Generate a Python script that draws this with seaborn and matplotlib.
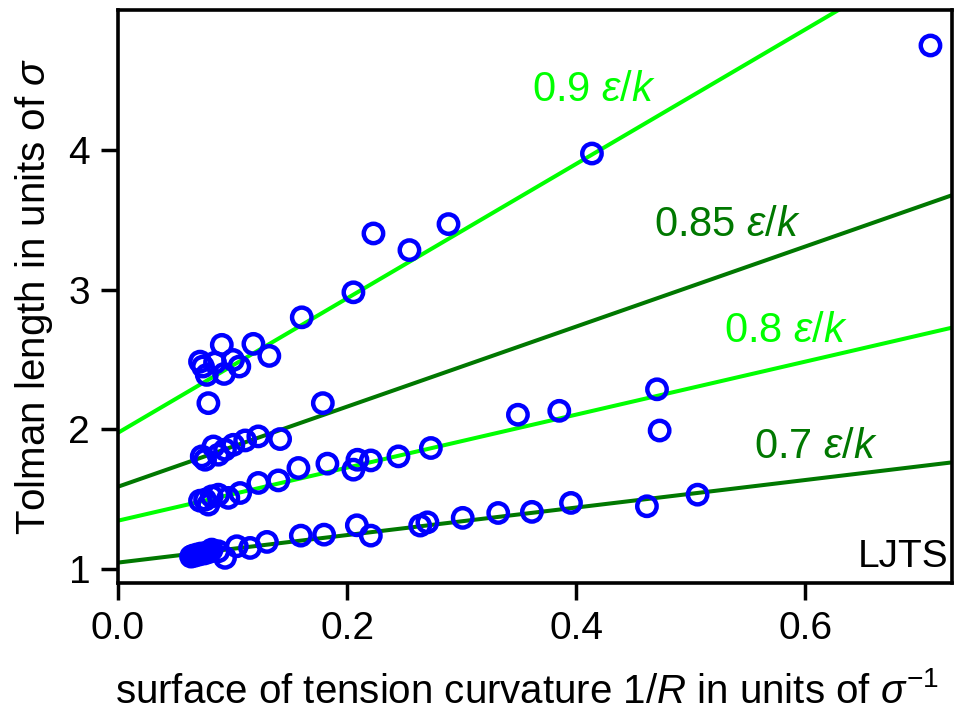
import numpy as np
import pandas as pd
import matplotlib
matplotlib.use("Agg")
import matplotlib.pyplot as plt
import seaborn as sns

# ---------------- data ----------------
temps = ["0.7", "0.8", "0.85", "0.9"]

x_07 = [0.0638, 0.0655, 0.0672, 0.0690, 0.0707, 0.0725, 0.0751, 0.0777, 0.0803,
        0.0818, 0.0876, 0.0934, 0.1037, 0.1153, 0.1300, 0.1596, 0.1799, 0.2085,
        0.2207, 0.2638, 0.2701, 0.3009, 0.3319, 0.3613, 0.3954, 0.4617, 0.5059]
y_07 = [1.089, 1.096, 1.096, 1.104, 1.104, 1.111, 1.111, 1.118, 1.125,
        1.139, 1.127, 1.080, 1.163, 1.151, 1.194, 1.239, 1.246, 1.313,
        1.239, 1.311, 1.334, 1.366, 1.401, 1.409, 1.473, 1.449, 1.532]

x_08 = [0.0716, 0.0760, 0.0789, 0.0818, 0.0876, 0.0963, 0.1066, 0.1225, 0.1400,
        0.1575, 0.1828, 0.2055, 0.2090, 0.2207, 0.2448, 0.2731, 0.3491, 0.3852,
        0.4728]
y_08 = [1.489, 1.496, 1.461, 1.520, 1.532, 1.509, 1.544, 1.616, 1.634,
        1.723, 1.754, 1.711, 1.782, 1.777, 1.806, 1.866, 2.104, 2.132,
        1.991]

x_085 = [0.0731, 0.0760, 0.0833, 0.0876, 0.0934, 0.1007, 0.1110, 0.1225, 0.1415,
         0.1788, 0.4705]
y_085 = [1.806, 1.782, 1.877, 1.818, 1.854, 1.889, 1.920, 1.949, 1.930,
         2.187, 2.286]

x_09 = [0.0716, 0.0906, 0.0742, 0.0847, 0.1004, 0.0775, 0.0926, 0.1059, 0.1182,
        0.1321, 0.0789, 0.1604, 0.2055, 0.2230, 0.2544, 0.2885, 0.4137, 0.7092]
y_09 = [2.484, 2.604, 2.449, 2.477, 2.496, 2.389, 2.396, 2.449, 2.611,
        2.525, 2.187, 2.801, 2.980, 3.401, 3.282, 3.468, 3.973, 4.746]

# linear fits delta(1/R) = intercept + slope / R
intercepts = [1.046, 1.346, 1.589, 1.975]
slopes = [0.985, 1.897, 2.865, 4.81]
line_colors = ["#007800", "#00ff00", "#007800", "#00ff00"]
label_x = [0.555, 0.529, 0.468, 0.361]
label_y = [1.87, 2.70, 3.464, 4.43]

x_ticks = [0.0, 0.2, 0.4, 0.6]
y_ticks = [1, 2, 3, 4]
x_lim = (0.0, 0.728)
y_lim = (0.9, 5.0)

# ---------------- tables ----------------
pts = pd.concat([
    pd.DataFrame({"x": x_07, "y": y_07, "T": "0.7"}),
    pd.DataFrame({"x": x_08, "y": y_08, "T": "0.8"}),
    pd.DataFrame({"x": x_085, "y": y_085, "T": "0.85"}),
    pd.DataFrame({"x": x_09, "y": y_09, "T": "0.9"}),
], ignore_index=True)

xs = np.array(x_lim)
lines = pd.concat([
    pd.DataFrame({"x": xs, "y": b + m * xs, "T": t})
    for t, b, m in zip(temps, intercepts, slopes)
], ignore_index=True)

# ---------------- style ----------------
sns.set_theme(style="ticks")
plt.rcParams["font.family"] = ["Liberation Sans", "DejaVu Sans"]
plt.rcParams["mathtext.fontset"] = "custom"
plt.rcParams["mathtext.rm"] = "Liberation Sans"
plt.rcParams["mathtext.it"] = "Liberation Sans:italic"
plt.rcParams["mathtext.bf"] = "Liberation Sans:bold"
plt.rcParams["text.color"] = "black"
plt.rcParams["axes.labelcolor"] = "black"

fig = plt.figure(figsize=(9.57, 7.2), dpi=100)
ax = fig.add_axes([118 / 957, 1 - 583 / 720, (952 - 118) / 957, (583 - 10) / 720])

sns.lineplot(data=lines, x="x", y="y", hue="T", hue_order=temps,
             palette=dict(zip(temps, line_colors)), linewidth=2.9,
             legend=False, ax=ax, zorder=2)

sns.scatterplot(data=pts, x="x", y="y", marker="o", s=195,
                facecolor="none", edgecolor="#0000ff", linewidth=3.2,
                legend=False, ax=ax, zorder=3)

for t, c, lx, ly in zip(temps, line_colors, label_x, label_y):
    ax.text(lx, ly, t + r" $\mathit{\varepsilon/k}$", color=c, fontsize=30,
            ha="left", va="center")

ax.text(0.725, 1.086, "LJTS", color="black", fontsize=28, ha="right", va="center")

ax.set_xlim(*x_lim)
ax.set_ylim(*y_lim)
ax.set_xticks(x_ticks)
ax.set_xticklabels([f"{v:.1f}" for v in x_ticks])
ax.set_yticks(y_ticks)
ax.set_yticklabels([str(v) for v in y_ticks])

ax.tick_params(axis="both", direction="out", length=12, width=2.5,
               labelsize=28, color="black", labelcolor="black", pad=8)
for s in ax.spines.values():
    s.set_visible(True)
    s.set_linewidth(2.6)
    s.set_color("black")

ax.set_xlabel(r"surface of tension curvature 1/$R$ in units of $\sigma^{\mathregular{-1}}$",
              fontsize=29, labelpad=16, color="black")
ax.xaxis.set_label_coords(0.49, -0.155)
ax.set_ylabel(r"Tolman length in units of $\sigma$", fontsize=29, labelpad=10,
              color="black")

fig.savefig("out.png", dpi=100, facecolor="white")
